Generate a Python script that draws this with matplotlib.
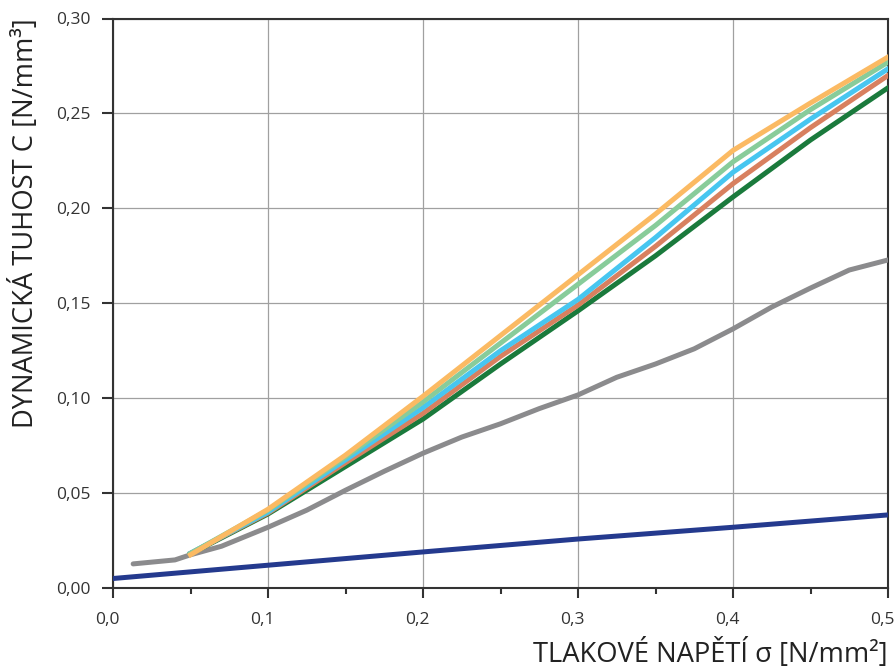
import matplotlib
matplotlib.use("Agg")
import matplotlib.pyplot as plt
import matplotlib.ticker as mticker
import matplotlib.transforms as mtransforms

plt.rcParams['font.family'] = ['Open Sans', 'DejaVu Sans']

# data
x_bundle = [0.05, 0.10, 0.15, 0.20, 0.25, 0.30, 0.35, 0.40, 0.45, 0.50]
y_orange = [0.0175, 0.0415, 0.070, 0.101, 0.133, 0.165, 0.197, 0.2305, 0.2555, 0.2797]
y_lgreen = [0.0182, 0.041, 0.069, 0.098, 0.129, 0.160, 0.191, 0.2245, 0.252, 0.277]
y_sky = [0.0183, 0.040, 0.0675, 0.095, 0.125, 0.152, 0.1846, 0.219, 0.247, 0.2735]
y_salmon = [0.0183, 0.0395, 0.066, 0.092, 0.122, 0.149, 0.180, 0.213, 0.2425, 0.270]
y_dgreen = [0.018, 0.039, 0.064, 0.089, 0.118, 0.146, 0.175, 0.206, 0.236, 0.2635]

x_gray = [0.013, 0.04, 0.05, 0.07, 0.10, 0.125, 0.15, 0.175, 0.20, 0.225, 0.25,
          0.275, 0.30, 0.325, 0.35, 0.375, 0.40, 0.425, 0.45, 0.475, 0.50]
y_gray = [0.0127, 0.0148, 0.0175, 0.022, 0.032, 0.041, 0.0515, 0.0615, 0.071, 0.0795, 0.0865,
          0.0945, 0.1017, 0.111, 0.118, 0.126, 0.1365, 0.148, 0.158, 0.1675, 0.1728]

x_navy = [0.0, 0.1, 0.2, 0.3, 0.4, 0.5]
y_navy = [0.005, 0.012, 0.019, 0.0258, 0.032, 0.0385]

xticks = [0.0, 0.1, 0.2, 0.3, 0.4, 0.5]
yticks = [0.00, 0.05, 0.10, 0.15, 0.20, 0.25, 0.30]

fig = plt.figure(figsize=(8.96, 6.71), dpi=100)
ax = fig.add_axes([113 / 896, 1 - 588 / 671, 775 / 896, 569.5 / 671])

lw = 3.6
ax.plot(x_navy, y_navy, color='#243A8E', lw=lw, zorder=3)
ax.plot(x_gray, y_gray, color='#8B8B8D', lw=lw, solid_capstyle='round', zorder=3)
ax.plot(x_bundle, y_dgreen, color='#1A7A3C', lw=lw, zorder=4)
ax.plot(x_bundle, y_salmon, color='#D8805F', lw=lw, zorder=4)
ax.plot(x_bundle, y_sky, color='#47C6F0', lw=lw, zorder=4)
ax.plot(x_bundle, y_lgreen, color='#88CC9A', lw=lw, zorder=4)
ax.plot(x_bundle, y_orange, color='#FBBA63', lw=lw, zorder=4)

ax.set_xlim(0, 0.5)
ax.set_ylim(0, 0.30)
ax.set_xticks(xticks)
ax.set_xticklabels([f"{v:.1f}".replace('.', ',') for v in xticks])
ax.xaxis.set_minor_locator(mticker.MultipleLocator(0.05))
ax.set_yticks(yticks)
ax.set_yticklabels([f"{v:.2f}".replace('.', ',') for v in yticks])

ax.grid(True, which='major', color='#A0A0A0', lw=0.9, zorder=1)
for s in ax.spines.values():
    s.set_color('#333333')
    s.set_linewidth(1.5)

ax.tick_params(axis='x', which='major', direction='out', length=7.5, width=1.5,
               color='#333333', labelsize=12.5, pad=10, labelcolor='#333333')
ax.tick_params(axis='x', which='minor', direction='out', length=4, width=1.5, color='#333333')
ax.tick_params(axis='y', which='major', direction='out', length=8, width=1.5,
               color='#333333', labelsize=12.5, pad=8, labelcolor='#333333')

# x tick labels sit a little left of their ticks in the original
shift = mtransforms.ScaledTranslation(-4 / 72, 0, fig.dpi_scale_trans)
for lab in ax.get_xticklabels():
    lab.set_transform(lab.get_transform() + shift)

ax.set_xlabel("TLAKOVÉ NAPĚTÍ σ [N/mm²]", fontsize=19.7, loc='right', color='#222222')
ax.xaxis.set_label_coords(1.0, -0.09)
ax.set_ylabel("DYNAMICKÁ TUHOST C [N/mm³]", fontsize=19.7, loc='top', color='#222222')
ax.yaxis.set_label_coords(-0.094, 1.0)

fig.savefig("out.png", dpi=100, facecolor='w')
